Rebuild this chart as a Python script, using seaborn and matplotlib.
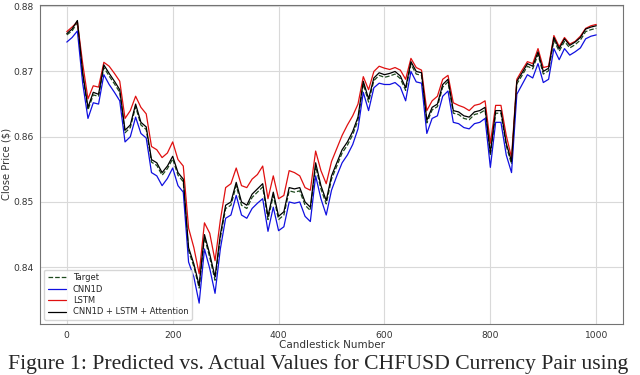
import matplotlib
matplotlib.use("Agg")
from matplotlib import pyplot as plt
import seaborn as sns
import pandas as pd
import numpy as np

# candlestick positions, one reading every 10 candles
candles = np.arange(0, 1001, 10)

target = [0.8756, 0.8762, 0.8775, 0.8694, 0.8641, 0.8664, 0.8662, 0.8706, 0.8693, 0.8681,
          0.8668, 0.8606, 0.8614, 0.8646, 0.8618, 0.8611, 0.8561, 0.8556, 0.8541, 0.8551,
          0.8566, 0.8541, 0.8531, 0.8425, 0.8401, 0.8368, 0.8446, 0.8415, 0.8380, 0.8445,
          0.8490, 0.8495, 0.8525, 0.8495, 0.8490, 0.8507, 0.8515, 0.8523, 0.8473, 0.8510,
          0.8473, 0.8480, 0.8517, 0.8515, 0.8517, 0.8495, 0.8487, 0.8555, 0.8520, 0.8497,
          0.8535, 0.8555, 0.8575, 0.8587, 0.8603, 0.8625, 0.8681, 0.8653, 0.8686, 0.8694,
          0.8691, 0.8693, 0.8696, 0.8689, 0.8671, 0.8711, 0.8696, 0.8694, 0.8621, 0.8641,
          0.8646, 0.8676, 0.8684, 0.8636, 0.8634, 0.8628, 0.8626, 0.8634, 0.8636, 0.8641,
          0.8571, 0.8636, 0.8636, 0.8586, 0.8558, 0.8681, 0.8694, 0.8708, 0.8704, 0.8726,
          0.8696, 0.8701, 0.8748, 0.8731, 0.8746, 0.8736, 0.8741, 0.8748, 0.8761, 0.8764,
          0.8766]

cnn1d = [0.8745, 0.8752, 0.8762, 0.8682, 0.8628, 0.8652, 0.8650, 0.8695, 0.8680, 0.8668,
         0.8655, 0.8592, 0.8600, 0.8630, 0.8605, 0.8598, 0.8545, 0.8540, 0.8525, 0.8536,
         0.8552, 0.8525, 0.8515, 0.8408, 0.8385, 0.8345, 0.8428, 0.8398, 0.8360, 0.8428,
         0.8475, 0.8480, 0.8510, 0.8480, 0.8475, 0.8490, 0.8498, 0.8505, 0.8455, 0.8492,
         0.8456, 0.8462, 0.8500, 0.8498, 0.8500, 0.8478, 0.8470, 0.8540, 0.8505, 0.8480,
         0.8518, 0.8540, 0.8560, 0.8572, 0.8588, 0.8612, 0.8668, 0.8640, 0.8675, 0.8682,
         0.8680, 0.8680, 0.8683, 0.8676, 0.8655, 0.8700, 0.8684, 0.8682, 0.8605, 0.8628,
         0.8632, 0.8662, 0.8670, 0.8622, 0.8620, 0.8614, 0.8612, 0.8620, 0.8622, 0.8628,
         0.8553, 0.8622, 0.8622, 0.8572, 0.8545, 0.8665, 0.8680, 0.8695, 0.8690, 0.8712,
         0.8683, 0.8688, 0.8735, 0.8718, 0.8735, 0.8725, 0.8730, 0.8736, 0.8750, 0.8754,
         0.8756]

lstm = [0.8761, 0.8768, 0.8776, 0.8712, 0.8658, 0.8678, 0.8676, 0.8714, 0.8708, 0.8697,
        0.8685, 0.8628, 0.8640, 0.8662, 0.8645, 0.8635, 0.8585, 0.8580, 0.8568, 0.8575,
        0.8592, 0.8565, 0.8555, 0.8460, 0.8430, 0.8390, 0.8468, 0.8452, 0.8410, 0.8472,
        0.8522, 0.8528, 0.8552, 0.8525, 0.8522, 0.8535, 0.8542, 0.8555, 0.8505, 0.8540,
        0.8505, 0.8510, 0.8548, 0.8545, 0.8540, 0.8522, 0.8518, 0.8578, 0.8548, 0.8528,
        0.8562, 0.8582, 0.8602, 0.8618, 0.8632, 0.8650, 0.8692, 0.8672, 0.8700, 0.8708,
        0.8705, 0.8703, 0.8706, 0.8702, 0.8688, 0.8720, 0.8706, 0.8702, 0.8640, 0.8655,
        0.8662, 0.8688, 0.8694, 0.8652, 0.8648, 0.8645, 0.8640, 0.8648, 0.8650, 0.8655,
        0.8590, 0.8648, 0.8648, 0.8602, 0.8568, 0.8688, 0.8702, 0.8715, 0.8712, 0.8735,
        0.8706, 0.8708, 0.8755, 0.8738, 0.8752, 0.8742, 0.8746, 0.8754, 0.8766, 0.8770,
        0.8772]

attention = [0.8758, 0.8765, 0.8778, 0.8698, 0.8645, 0.8668, 0.8665, 0.8710, 0.8697, 0.8685,
             0.8672, 0.8610, 0.8618, 0.8650, 0.8622, 0.8615, 0.8565, 0.8560, 0.8545, 0.8555,
             0.8570, 0.8545, 0.8535, 0.8430, 0.8405, 0.8372, 0.8450, 0.8420, 0.8385, 0.8450,
             0.8495, 0.8500, 0.8530, 0.8500, 0.8495, 0.8512, 0.8520, 0.8528, 0.8478, 0.8515,
             0.8478, 0.8485, 0.8522, 0.8520, 0.8522, 0.8500, 0.8492, 0.8560, 0.8525, 0.8502,
             0.8540, 0.8560, 0.8580, 0.8592, 0.8608, 0.8630, 0.8685, 0.8658, 0.8690, 0.8698,
             0.8695, 0.8697, 0.8700, 0.8693, 0.8675, 0.8715, 0.8700, 0.8698, 0.8625, 0.8645,
             0.8650, 0.8680, 0.8688, 0.8640, 0.8638, 0.8632, 0.8630, 0.8638, 0.8640, 0.8645,
             0.8575, 0.8640, 0.8640, 0.8590, 0.8562, 0.8685, 0.8698, 0.8712, 0.8708, 0.8730,
             0.8700, 0.8705, 0.8752, 0.8735, 0.8750, 0.8740, 0.8745, 0.8752, 0.8765, 0.8768,
             0.8770]

sns.set_style("whitegrid")
plt.rcParams["axes.edgecolor"] = "0.45"
plt.rcParams["grid.color"] = "0.85"

fig = plt.figure(figsize=(6.4, 3.75), dpi=100)
ax = fig.add_axes([0.063, 0.136, 0.91, 0.851])

sns.lineplot(x=candles, y=target, ax=ax, color="#1e4a1e", linestyle="--", linewidth=0.9, label="Target")
sns.lineplot(x=candles, y=cnn1d, ax=ax, color="#1010e0", linewidth=0.9, label="CNN1D")
sns.lineplot(x=candles, y=lstm, ax=ax, color="#e01010", linewidth=0.9, label="LSTM")
sns.lineplot(x=candles, y=attention, ax=ax, color="black", linewidth=0.9, label="CNN1D + LSTM + Attention")

ax.set_xlim(-50, 1050)
ax.set_ylim(0.8313, 0.8802)
ax.set_xticks([0, 200, 400, 600, 800, 1000])
ax.set_yticks([0.84, 0.85, 0.86, 0.87, 0.88])
ax.tick_params(labelsize=6.6, colors="0.2", pad=1.5)
ax.set_xlabel("Candlestick Number", fontsize=7.5, color="0.2", labelpad=0)
ax.set_ylabel("Close Price ($)", fontsize=7.2, color="0.2")
ax.yaxis.set_label_coords(-0.05, 0.5)

leg = ax.legend(loc="lower left", fontsize=6, frameon=True, handlelength=2.2, borderpad=0.4, labelspacing=0.3)
leg.get_frame().set_edgecolor("0.8")

fig.text(0.012, 0.028, "Figure 1: Predicted vs. Actual Values for CHFUSD Currency Pair using",
         fontsize=15.6, family="Liberation Serif", va="center", ha="left")

fig.savefig("out.png", dpi=100)
